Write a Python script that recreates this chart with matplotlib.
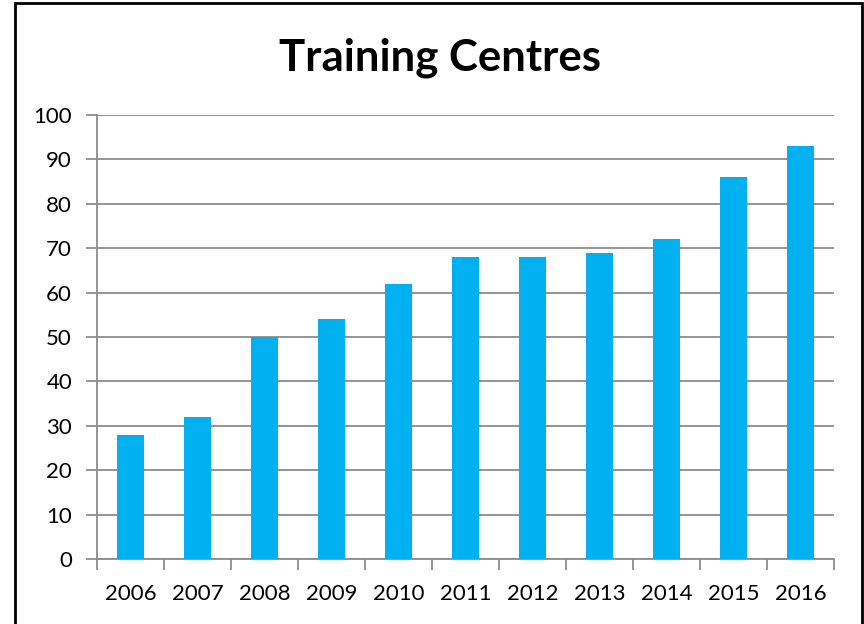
import numpy as np
import matplotlib.pyplot as plt
from matplotlib.patches import Rectangle

years = ["2006", "2007", "2008", "2009", "2010", "2011",
         "2012", "2013", "2014", "2015", "2016"]
centres = [28, 32, 50, 54, 62, 68, 68, 69, 72, 86, 93]
y_ticks = [0, 10, 20, 30, 40, 50, 60, 70, 80, 90, 100]

plt.rcParams["font.family"] = ["Lato", "DejaVu Sans"]

fig = plt.figure(figsize=(8.64, 6.24), dpi=100)
ax = fig.add_axes([0.1123, 0.1042, 0.853, 0.7115])

x = np.arange(len(years))
ax.bar(x, centres, width=0.4, color="#00B0F0", zorder=3)

ax.set_xlim(-0.5, len(years) - 0.5)
ax.set_ylim(0, 100)
ax.set_yticks(y_ticks)
ax.yaxis.grid(True, color="#8c8c8c", linewidth=1.3, zorder=0)

# ticks sit between categories, labels in the middle
ax.set_xticks(np.arange(-0.5, len(years), 1.0))
ax.set_xticklabels([])
ax.set_xticks(x, minor=True)
ax.set_xticklabels(years, minor=True)
ax.tick_params(axis="x", which="minor", length=0, labelsize=16, pad=18)
ax.tick_params(axis="x", which="major", length=8, color="#8c8c8c", width=1.3)
ax.tick_params(axis="y", length=8, color="#8c8c8c", width=1.3, labelsize=16, pad=10)

for s in ["top", "right"]:
    ax.spines[s].set_visible(False)
for s in ["left", "bottom"]:
    ax.spines[s].set_color("#8c8c8c")
    ax.spines[s].set_linewidth(1.3)

fig.text(0.509, 0.908, "Training Centres", ha="center", va="center",
         fontsize=31.5, fontweight="bold")

# chart border
fig.patches.append(Rectangle((0.0174, -0.02), 0.980, 1.015,
                             transform=fig.transFigure, fill=False,
                             edgecolor="black", linewidth=2))

fig.savefig("out.png", dpi=100)
